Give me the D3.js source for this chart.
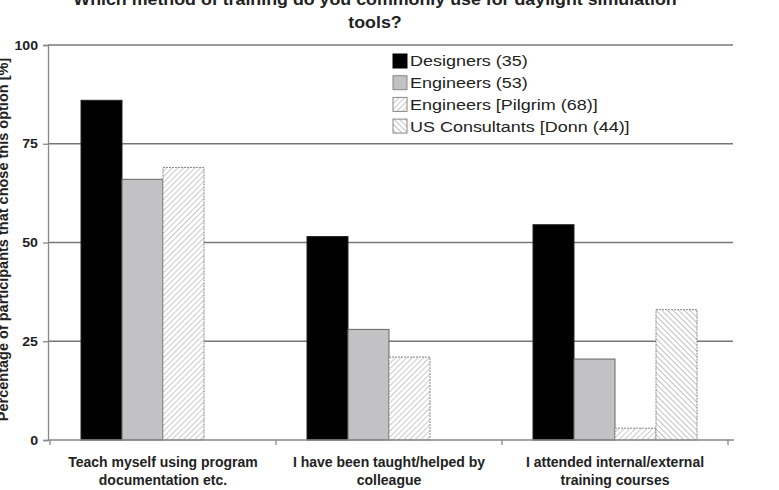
<!DOCTYPE html>
<html><head><meta charset="utf-8">
<script src="https://cdn.jsdelivr.net/npm/d3@7/dist/d3.min.js"></script>
<style>body{margin:0;background:#fff;}svg{display:block;font-family:"Liberation Sans",Arial,sans-serif;}</style>
</head><body>
<svg id="c" width="779" height="490"></svg>
<script>
const categories = ["Teach myself using program documentation etc.", "I have been taught/helped by colleague", "I attended internal/external training courses"];
const categoryLines = [["Teach myself using program", "documentation etc."], ["I have been taught/helped by", "colleague"], ["I attended internal/external", "training courses"]];
const seriesNames = ["Designers (35)", "Engineers (53)", "Engineers [Pilgrim (68)]", "US Consultants [Donn (44)]"];
const designers = [86, 51.5, 54.5];
const engineers = [66, 28, 20.5];
const pilgrim = [69, 21, 3];
const usConsultants = [null, null, 33];
const yTicks = [0, 25, 50, 75, 100];
const titleLines = ["Which method of training do you commonly use for daylight simulation", "tools?"];
const yLabel = "Percentage of participants that chose this option [%]";

const seriesValues = [designers, engineers, pilgrim, usConsultants];
const svg = d3.select("#c");
const defs = svg.append("defs");
function hatch(id, dir, color){
  const p = defs.append("pattern").attr("id", id).attr("patternUnits","userSpaceOnUse")
    .attr("width", 4).attr("height", 4).attr("patternTransform", "rotate(" + (dir > 0 ? 45 : -45) + ")");
  p.append("rect").attr("width",4).attr("height",4).attr("fill","#fff");
  p.append("line").attr("x1",0).attr("y1",0).attr("x2",0).attr("y2",4).attr("stroke",color).attr("stroke-width",1.6);
}
hatch("hPil", 1, "#bdbdbd");
hatch("hUS", -1, "#b0b0b0");
const fills = ["#000", "#c2c1c3", "url(#hPil)", "url(#hUS)"];
const strokes = ["#222", "#666", "#888", "#888"];

const L = 48, R = 733, T = 45, B = 440;
const y = d3.scaleLinear().domain([0, 100]).range([B, T]);
const x0 = d3.scaleBand().domain(categories).range([50, 728]).padding(0);
const groupW = 164;
const x1 = d3.scaleBand().domain(seriesNames).range([(x0.bandwidth()-groupW)/2, (x0.bandwidth()+groupW)/2]).padding(0);

// gridlines
svg.append("g").selectAll("line").data(yTicks.filter(d => d > 0)).join("line")
  .attr("x1", L).attr("x2", R).attr("y1", d => y(d)).attr("y2", d => y(d))
  .attr("stroke", "#777").attr("stroke-width", 1.3);

// bars
const g = svg.append("g");
seriesValues.forEach((vals, si) => {
  g.selectAll(null).data(categories.map((c, i) => ({c, v: vals[i]})).filter(d => d.v != null)).join("rect")
    .attr("x", d => x0(d.c) + x1(seriesNames[si]))
    .attr("width", x1.bandwidth())
    .attr("y", d => y(d.v)).attr("height", d => y(0) - y(d.v))
    .attr("fill", fills[si]).attr("stroke", strokes[si]).attr("stroke-width", 1)
    .attr("stroke-dasharray", si >= 2 ? "2,1" : null);
});

// y axis
const ya = svg.append("g").attr("transform", `translate(${L},0)`)
  .call(d3.axisLeft(y).tickValues(yTicks).tickSize(5).tickPadding(4).tickFormat(d3.format("d")));
ya.select(".domain").attr("stroke", "#888").attr("stroke-width", 1.3);
ya.selectAll(".tick line").attr("stroke", "#888").attr("stroke-width", 1.3);
ya.selectAll(".tick text").remove();
ya.selectAll(".tick").append("g").attr("transform", "translate(-10,0) scale(1.18,1)")
  .append("text").attr("text-anchor", "end").attr("dy", "0.35em")
  .attr("font-size", 12).attr("font-weight", "bold").attr("fill", "#222")
  .attr("font-family", '"Liberation Sans",Arial,sans-serif').text(d => d);

// x axis
svg.append("line").attr("x1", L).attr("x2", R + 1).attr("y1", B).attr("y2", B).attr("stroke", "#888").attr("stroke-width", 1.3);
svg.append("g").selectAll("line").data(categories.map(c => x0(c)).concat([x0(categories[2]) + x0.bandwidth()]))
  .join("line").attr("x1", d => d).attr("x2", d => d).attr("y1", B).attr("y2", B + 5)
  .attr("stroke", "#888").attr("stroke-width", 1.3);

// category labels
const cl = svg.append("g").selectAll("text").data(categories).join("text")
  .attr("x", d => x0(d) + x0.bandwidth()/2).attr("text-anchor", "middle")
  .attr("font-size", 14).attr("font-weight", "bold").attr("fill", "#222");
cl.each(function(d, i){
  d3.select(this).selectAll("tspan").data(categoryLines[i]).join("tspan")
    .attr("x", x0(d) + x0.bandwidth()/2).attr("y", (t, j) => 467 + j * 18).text(t => t);
});

// title
svg.append("g").selectAll("g").data(titleLines).join("g")
  .attr("transform", (d, i) => `translate(375,${5 + i * 23}) scale(1.08,1)`)
  .append("text").attr("text-anchor", "middle")
  .attr("font-size", 16.5).attr("font-weight", "bold").attr("fill", "#222").text(d => d);

// y label
svg.append("text").attr("transform", `translate(8,${(T + B)/2 - 3}) rotate(-90)`).attr("text-anchor", "middle")
  .attr("font-size", 14.5).attr("font-weight", "bold").attr("fill", "#222").text(yLabel);

// legend
const leg = svg.append("g").attr("transform", "translate(393,54)");
const li = leg.selectAll("g").data(seriesNames).join("g").attr("transform", (d, i) => `translate(0,${i * 21.7})`);
li.append("rect").attr("width", 14).attr("height", 14).attr("fill", (d, i) => fills[i]).attr("stroke", (d, i) => i === 0 ? "#000" : "#888");
li.append("g").attr("transform", "translate(17,7) scale(1.16,1)")
  .append("text").attr("dy", "0.35em").attr("font-size", 15.5).attr("fill", "#222").text(d => d);
</script>
</body></html>
